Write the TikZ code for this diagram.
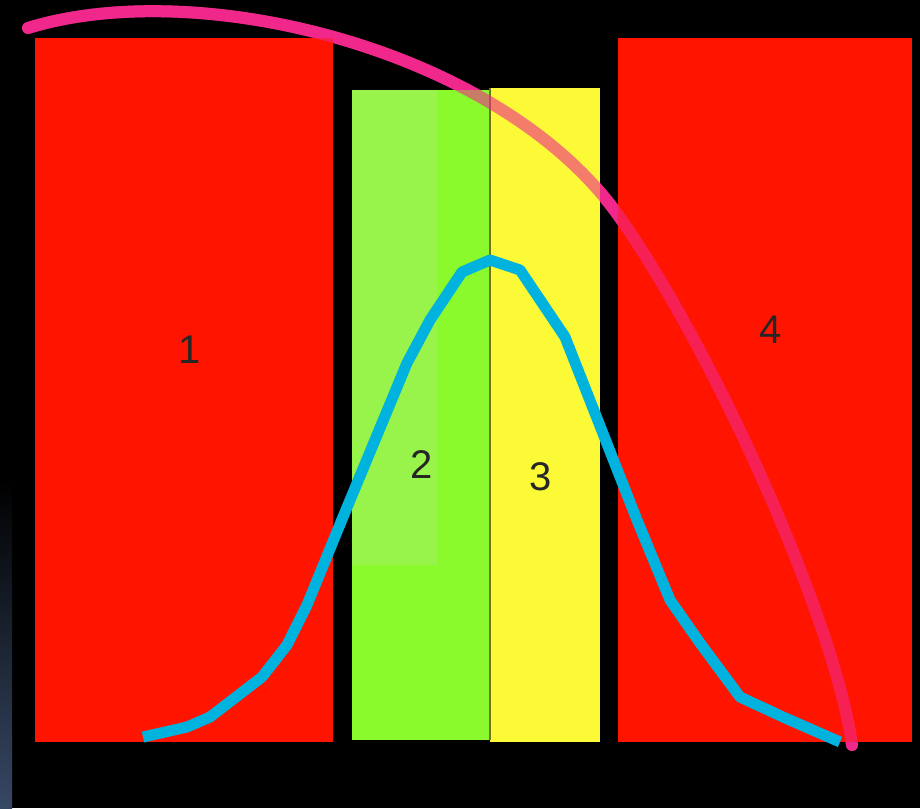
\documentclass[tikz,border=0pt]{standalone}
\usepackage{fontspec}
\setmainfont{Liberation Sans}
\definecolor{barred}{RGB}{255,20,0}
\definecolor{bargreen}{RGB}{138,250,45}
\definecolor{barlight}{RGB}{152,244,75}
\definecolor{baryellow}{RGB}{252,250,55}
\definecolor{curveblue}{RGB}{0,178,222}
\definecolor{arcpink}{RGB}{240,40,140}
\definecolor{edgeblue}{RGB}{55,72,100}
\tikzset{
  barlabel/.style={font=\fontsize{40}{40}\selectfont, text=black!85, inner sep=0pt},
  arcline/.style={draw=arcpink, line width=12pt, line cap=round},
  bellline/.style={draw=curveblue, line width=11pt, line join=round}
}
\begin{document}
\begin{tikzpicture}[x=1pt, y=-1pt]
        \fill[black] (0,0) rectangle (920,808);
        \useasboundingbox (0,0) rectangle (920,808);
        \shade[top color=black, bottom color=edgeblue] (0,480) rectangle (12,808);
        \coordinate (a0) at (28,28);
        \coordinate (a1) at (618,215);
        \coordinate (a2) at (852,745);
        % arc behind the bars, seen on black
        \draw[arcline] (a0) .. controls (200,-25) and (500,50) .. (a1) .. controls (712,347) and (835,620) .. (a2);
        % bars
        \fill[barred] (35,38) rectangle (333,742);
        \fill[bargreen] (352,90) rectangle (490,740);
        \fill[barlight] (352,90) rectangle (437,565);
        \fill[baryellow] (490,88) rectangle (600,742);
        \draw[olive!80!black, line width=1.2pt] (490,88) -- (490,740);
        \fill[barred] (618,38) rectangle (912,742);
        % labels
        \node[barlabel] (l1) at (190,350) {1};
        \node[barlabel] (l2) at (422,465) {2};
        \node[barlabel] (l3) at (541,477) {3};
        \node[barlabel] (l4) at (771,330) {4};
        % arc over the bars
        \draw[arcline, opacity=0.6] (a0) .. controls (200,-25) and (500,50) .. (a1) .. controls (712,347) and (835,620) .. (a2);
        % bell curve
        \draw[bellline] (143,737) -- (187,727) -- (210,717) -- (262,677) -- (287,645) -- (307,605) -- (343,517) -- (407,363) -- (430,320) -- (462,272) -- (490,260) -- (520,270) -- (565,337) -- (637,520) -- (670,600) -- (700,643) -- (740,697) -- (783,717) -- (840,742);
\end{tikzpicture}
\end{document}
